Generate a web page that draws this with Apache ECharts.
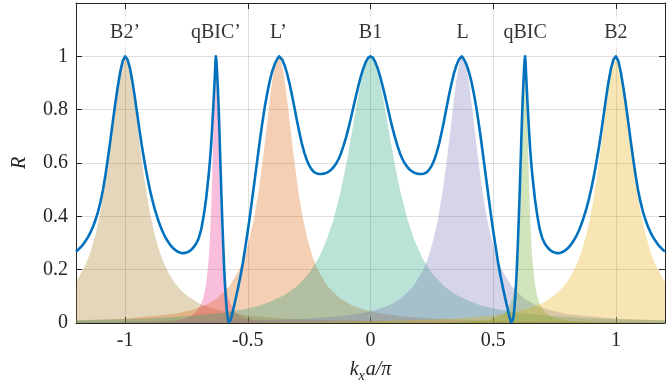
<!DOCTYPE html>
<html>
<head>
<meta charset="utf-8">
<script src="https://cdn.jsdelivr.net/npm/echarts@6/dist/echarts.min.js"></script>
<style>
  html, body { margin: 0; padding: 0; background: #fff; }
  #chart { width: 671px; height: 388px; }
</style>
</head>
<body>
<div id="chart"></div>
<script>
// reflectance R(kx a / pi)
const reflectance = [
  [-1.2,0.268],[-1.19,0.276],[-1.18,0.285],[-1.17,0.296],[-1.16,0.309],[-1.15,0.324],[-1.14,0.342],[-1.13,0.363],[-1.12,0.388],[-1.11,0.418],[-1.1,0.455],[-1.09,0.5],[-1.08,0.555],[-1.07,0.618],[-1.06,0.685],[-1.05,0.755],[-1.04,0.823],[-1.03,0.885],[-1.02,0.94],[-1.01,0.982],[-1,1],
  [-0.99,0.988],[-0.98,0.955],[-0.97,0.905],[-0.96,0.845],[-0.95,0.78],[-0.94,0.715],[-0.93,0.655],[-0.92,0.6],[-0.91,0.55],[-0.9,0.505],[-0.89,0.465],[-0.88,0.43],[-0.87,0.4],[-0.86,0.372],[-0.85,0.349],[-0.84,0.329],[-0.83,0.312],[-0.82,0.298],[-0.81,0.286],[-0.8,0.277],[-0.79,0.27],[-0.78,0.265],[-0.77,0.262],[-0.76,0.262],[-0.75,0.264],[-0.74,0.268],[-0.73,0.275],[-0.72,0.285],[-0.71,0.298],[-0.7,0.318],[-0.69,0.35],[-0.68,0.4],[-0.67,0.465],[-0.66,0.55],[-0.655,0.6],[-0.65,0.66],[-0.645,0.735],[-0.64,0.82],[-0.637,0.875],[-0.634,0.93],[-0.632,0.975],[-0.63,1],
  [-0.628,0.985],[-0.626,0.955],[-0.623,0.9],[-0.62,0.835],[-0.617,0.76],[-0.614,0.67],[-0.611,0.58],[-0.608,0.49],[-0.605,0.41],[-0.602,0.335],[-0.599,0.265],[-0.596,0.2],[-0.593,0.145],[-0.59,0.1],[-0.587,0.063],[-0.584,0.034],[-0.581,0.014],[-0.578,0.003],[-0.576,0],[-0.573,0.003],[-0.57,0.011],[-0.565,0.028],[-0.56,0.048],[-0.55,0.088],[-0.54,0.13],[-0.53,0.175],[-0.52,0.226],[-0.51,0.285],[-0.5,0.345],[-0.49,0.41],[-0.48,0.48],[-0.47,0.55],[-0.46,0.62],[-0.45,0.69],[-0.44,0.755],[-0.43,0.815],[-0.42,0.865],[-0.41,0.91],[-0.4,0.945],[-0.39,0.972],[-0.38,0.99],[-0.372,1],
  [-0.365,0.995],[-0.36,0.988],[-0.35,0.966],[-0.34,0.936],[-0.33,0.898],[-0.32,0.855],[-0.31,0.808],[-0.3,0.76],[-0.29,0.715],[-0.28,0.674],[-0.27,0.64],[-0.26,0.612],[-0.25,0.591],[-0.24,0.576],[-0.23,0.566],[-0.22,0.561],[-0.21,0.559],[-0.2,0.559],[-0.19,0.56],[-0.18,0.563],[-0.17,0.568],[-0.16,0.575],[-0.15,0.585],[-0.14,0.598],[-0.13,0.615],[-0.12,0.637],[-0.11,0.664],[-0.1,0.695],[-0.09,0.73],[-0.08,0.768],[-0.07,0.808],[-0.06,0.848],[-0.05,0.887],[-0.04,0.922],[-0.03,0.953],[-0.02,0.977],[-0.01,0.994],[0,1],
  [0.01,0.994],[0.02,0.977],[0.03,0.953],[0.04,0.922],[0.05,0.887],[0.06,0.848],[0.07,0.808],[0.08,0.768],[0.09,0.73],[0.1,0.695],[0.11,0.664],[0.12,0.637],[0.13,0.615],[0.14,0.598],[0.15,0.585],[0.16,0.575],[0.17,0.568],[0.18,0.563],[0.19,0.56],[0.2,0.559],[0.21,0.559],[0.22,0.561],[0.23,0.566],[0.24,0.576],[0.25,0.591],[0.26,0.612],[0.27,0.64],[0.28,0.674],[0.29,0.715],[0.3,0.76],[0.31,0.808],[0.32,0.855],[0.33,0.898],[0.34,0.936],[0.35,0.966],[0.36,0.988],[0.365,0.995],[0.372,1],
  [0.38,0.99],[0.39,0.972],[0.4,0.945],[0.41,0.91],[0.42,0.865],[0.43,0.815],[0.44,0.755],[0.45,0.69],[0.46,0.62],[0.47,0.55],[0.48,0.48],[0.49,0.41],[0.5,0.345],[0.51,0.285],[0.52,0.226],[0.53,0.175],[0.54,0.13],[0.55,0.088],[0.56,0.048],[0.565,0.028],[0.57,0.011],[0.573,0.003],[0.576,0],[0.578,0.003],[0.581,0.014],[0.584,0.034],[0.587,0.063],[0.59,0.1],[0.593,0.145],[0.596,0.2],[0.599,0.265],[0.602,0.335],[0.605,0.41],[0.608,0.49],[0.611,0.58],[0.614,0.67],[0.617,0.76],[0.62,0.835],[0.623,0.9],[0.626,0.955],[0.628,0.985],[0.63,1],
  [0.632,0.975],[0.634,0.93],[0.637,0.875],[0.64,0.82],[0.645,0.735],[0.65,0.66],[0.655,0.6],[0.66,0.55],[0.67,0.465],[0.68,0.4],[0.69,0.35],[0.7,0.318],[0.71,0.298],[0.72,0.285],[0.73,0.275],[0.74,0.268],[0.75,0.264],[0.76,0.262],[0.77,0.262],[0.78,0.265],[0.79,0.27],[0.8,0.277],[0.81,0.286],[0.82,0.298],[0.83,0.312],[0.84,0.329],[0.85,0.349],[0.86,0.372],[0.87,0.4],[0.88,0.43],[0.89,0.465],[0.9,0.505],[0.91,0.55],[0.92,0.6],[0.93,0.655],[0.94,0.715],[0.95,0.78],[0.96,0.845],[0.97,0.905],[0.98,0.955],[0.99,0.988],[1,1],
  [1.01,0.982],[1.02,0.94],[1.03,0.885],[1.04,0.823],[1.05,0.755],[1.06,0.685],[1.07,0.618],[1.08,0.555],[1.09,0.5],[1.1,0.455],[1.11,0.418],[1.12,0.388],[1.13,0.363],[1.14,0.342],[1.15,0.324],[1.16,0.309],[1.17,0.296],[1.18,0.285],[1.19,0.276],[1.2,0.268]
]

// shaded single-mode contributions
const fillB2p = [
  [-1.2,0.153],[-1.16,0.22],[-1.14,0.269],[-1.12,0.334],[-1.1,0.419],[-1.08,0.53],[-1.06,0.667],[-1.05,0.743],[-1.04,0.819],[-1.03,0.889],[-1.02,0.948],[-1.01,0.986],[-1,1],
  [-0.99,0.986],[-0.98,0.948],[-0.97,0.889],[-0.96,0.819],[-0.95,0.743],[-0.94,0.667],[-0.92,0.53],[-0.9,0.419],[-0.88,0.334],[-0.86,0.269],[-0.84,0.22],[-0.82,0.183],[-0.8,0.153],[-0.775,0.126],[-0.75,0.104],[-0.7,0.074],[-0.65,0.056],[-0.6,0.043],[-0.5,0.028],[-0.35,0.017],[-0.2,0.011],[0,0.0072],[0.2,0.005],[0.5,0.0032],[0.8,0.0022],[1.2,0.0015]
]
const fillB2 = [
  [-1.2,0.0015],[-0.8,0.0022],[-0.5,0.0032],[-0.2,0.005],[0,0.0072],[0.2,0.011],[0.35,0.017],[0.5,0.028],[0.6,0.043],[0.65,0.056],[0.7,0.074],[0.75,0.104],[0.775,0.126],[0.8,0.153],[0.82,0.183],[0.84,0.22],[0.86,0.269],[0.88,0.334],[0.9,0.419],[0.92,0.53],[0.94,0.667],[0.95,0.743],[0.96,0.819],[0.97,0.889],[0.98,0.948],[0.99,0.986],[1,1],
  [1.01,0.986],[1.02,0.948],[1.03,0.889],[1.04,0.819],[1.05,0.743],[1.06,0.667],[1.08,0.53],[1.1,0.419],[1.12,0.334],[1.14,0.269],[1.16,0.22],[1.2,0.153]
]
const fillLp = [
  [-1.2,0.0093],[-1,0.016],[-0.8,0.034],[-0.725,0.05],[-0.675,0.066],[-0.625,0.093],[-0.575,0.138],[-0.535,0.2],[-0.515,0.246],[-0.495,0.308],[-0.475,0.39],[-0.455,0.5],[-0.435,0.64],[-0.425,0.719],[-0.415,0.8],[-0.405,0.877],[-0.395,0.941],[-0.385,0.985],[-0.375,1],
  [-0.365,0.985],[-0.355,0.941],[-0.345,0.877],[-0.335,0.8],[-0.325,0.719],[-0.315,0.64],[-0.295,0.5],[-0.275,0.39],[-0.255,0.308],[-0.235,0.246],[-0.215,0.2],[-0.175,0.138],[-0.125,0.093],[-0.075,0.066],[-0.025,0.05],[0.025,0.038],[0.125,0.025],[0.275,0.015],[0.425,0.01],[0.625,0.0064],[0.825,0.0044],[1.025,0.0033],[1.2,0.0026]
]
const fillL = [
  [-1.2,0.0026],[-1.025,0.0033],[-0.825,0.0044],[-0.625,0.0064],[-0.425,0.01],[-0.275,0.015],[-0.125,0.025],[-0.025,0.038],[0.025,0.05],[0.075,0.066],[0.125,0.093],[0.175,0.138],[0.215,0.2],[0.235,0.246],[0.255,0.308],[0.275,0.39],[0.295,0.5],[0.315,0.64],[0.325,0.719],[0.335,0.8],[0.345,0.877],[0.355,0.941],[0.365,0.985],[0.375,1],
  [0.385,0.985],[0.395,0.941],[0.405,0.877],[0.415,0.8],[0.425,0.719],[0.435,0.64],[0.455,0.5],[0.475,0.39],[0.495,0.308],[0.515,0.246],[0.535,0.2],[0.575,0.138],[0.625,0.093],[0.675,0.066],[0.725,0.05],[0.8,0.034],[1,0.016],[1.2,0.0093]
]
const fillB1 = [
  [-1.2,0.01],[-1.05,0.013],[-0.9,0.017],[-0.75,0.025],[-0.6,0.038],[-0.5,0.054],[-0.45,0.066],[-0.4,0.083],[-0.35,0.105],[-0.3,0.138],[-0.25,0.187],[-0.21,0.246],[-0.18,0.308],[-0.15,0.39],[-0.12,0.5],[-0.1,0.59],[-0.08,0.692],[-0.06,0.8],[-0.04,0.9],[-0.02,0.973],[0,1],
  [0.02,0.973],[0.04,0.9],[0.06,0.8],[0.08,0.692],[0.1,0.59],[0.12,0.5],[0.15,0.39],[0.18,0.308],[0.21,0.246],[0.25,0.187],[0.3,0.138],[0.35,0.105],[0.4,0.083],[0.45,0.066],[0.5,0.054],[0.6,0.038],[0.75,0.025],[0.9,0.017],[1.05,0.013],[1.2,0.01]
]
const fillQbicP = [
  [-1.2,0.0008],[-0.93,0.003],[-0.85,0.0056],[-0.8,0.0093],[-0.76,0.016],[-0.73,0.027],[-0.71,0.041],[-0.69,0.07],[-0.68,0.098],[-0.67,0.145],[-0.66,0.232],[-0.655,0.303],[-0.65,0.405],[-0.646,0.515],[-0.642,0.654],[-0.638,0.81],[-0.634,0.944],[-0.63,1],
  [-0.626,0.944],[-0.622,0.81],[-0.618,0.654],[-0.614,0.515],[-0.61,0.405],[-0.605,0.303],[-0.6,0.232],[-0.59,0.145],[-0.58,0.098],[-0.57,0.07],[-0.55,0.041],[-0.53,0.027],[-0.5,0.016],[-0.46,0.0093],[-0.41,0.0056],[-0.33,0.003],[-0.18,0.0013],[0.17,0.0004],[1.2,0.0001]
]
const fillQbic = [
  [-1.2,0.0001],[-0.17,0.0004],[0.18,0.0013],[0.33,0.003],[0.41,0.0056],[0.46,0.0093],[0.5,0.016],[0.53,0.027],[0.55,0.041],[0.57,0.07],[0.58,0.098],[0.59,0.145],[0.6,0.232],[0.605,0.303],[0.61,0.405],[0.614,0.515],[0.618,0.654],[0.622,0.81],[0.626,0.944],[0.63,1],
  [0.634,0.944],[0.638,0.81],[0.642,0.654],[0.646,0.515],[0.65,0.405],[0.655,0.303],[0.66,0.232],[0.67,0.145],[0.68,0.098],[0.69,0.07],[0.71,0.041],[0.73,0.027],[0.76,0.016],[0.8,0.0093],[0.85,0.0056],[0.93,0.003],[1.2,0.0008]
]

const peakNames = ['B2’', 'qBIC’', 'L’', 'B1', 'L', 'qBIC', 'B2']
const peakX     = [-1, -0.63, -0.375, 0, 0.375, 0.63, 1]
const peakLabelY = 1.09

const xTicks = [-1, -0.5, 0, 0.5, 1]
const yTicks = [0, 0.2, 0.4, 0.6, 0.8, 1]

const COLORS = {
  line: '#0072BD',
  axis: '#262626',
  grid: 'rgba(38,38,38,0.15)',
}
const FONT = '"Liberation Serif", "Times New Roman", serif'

const fills = [
  { name: 'B2’',   data: fillB2p,   color: '#a6761d' },
  { name: 'qBIC’', data: fillQbicP, color: '#e7298a' },
  { name: 'L’',    data: fillLp,    color: '#d95f02' },
  { name: 'B1',    data: fillB1,    color: '#1b9e77' },
  { name: 'L',     data: fillL,     color: '#7570b3' },
  { name: 'qBIC',  data: fillQbic,  color: '#66a61e' },
  { name: 'B2',    data: fillB2,    color: '#e6ab02' },
]

const chart = echarts.init(document.getElementById('chart'), null, { renderer: 'canvas' })

const tickStyle = { show: true, inside: true, length: 6, lineStyle: { color: COLORS.axis, width: 1 } }
const axLine = { show: true, onZero: false, lineStyle: { color: COLORS.axis, width: 1 } }

chart.setOption({
  animation: false,
  backgroundColor: '#fff',
  grid: { left: 76, right: 6, top: 3, bottom: 64 },
  xAxis: [
    {
      type: 'value', min: -1.2, max: 1.2, position: 'bottom',
      name: '{i|k}{s|x}{i|a/π}', nameLocation: 'middle', nameGap: 34,
      nameTextStyle: {
        rich: {
          i: { fontFamily: FONT, fontStyle: 'italic', fontSize: 20, color: COLORS.axis },
          s: { fontFamily: FONT, fontStyle: 'italic', fontSize: 14, color: COLORS.axis, verticalAlign: 'bottom', padding: [12, 1, 0, 0] },
        },
      },
      axisLine: axLine,
      axisTick: tickStyle,
      axisLabel: {
        color: COLORS.axis, fontFamily: FONT, fontSize: 20, margin: 8,
        formatter: v => (xTicks.some(t => Math.abs(t - v) < 1e-9) ? String(v) : ''),
      },
      splitLine: { show: true, lineStyle: { color: COLORS.grid, width: 1 } },
    },
    {
      type: 'value', min: -1.2, max: 1.2, position: 'top',
      axisLine: axLine, axisTick: tickStyle,
      axisLabel: { show: false }, splitLine: { show: false },
    },
  ],
  yAxis: [
    {
      type: 'value', min: 0, max: 1.2, interval: 0.2, position: 'left',
      name: 'R', nameLocation: 'middle', nameGap: 46, nameRotate: 90,
      nameTextStyle: { fontFamily: FONT, fontStyle: 'italic', fontSize: 20, color: COLORS.axis },
      axisLine: axLine,
      axisTick: tickStyle,
      axisLabel: {
        color: COLORS.axis, fontFamily: FONT, fontSize: 20, margin: 8,
        formatter: v => (yTicks.some(t => Math.abs(t - v) < 1e-9) ? String(+v.toFixed(1)) : ''),
      },
      splitLine: { show: true, lineStyle: { color: COLORS.grid, width: 1 } },
    },
    {
      type: 'value', min: 0, max: 1.2, interval: 0.2, position: 'right',
      axisLine: axLine, axisTick: tickStyle,
      axisLabel: { show: false }, splitLine: { show: false },
    },
  ],
  series: [
    ...fills.map(f => ({
      name: f.name,
      type: 'line',
      data: f.data,
      showSymbol: false,
      smooth: false,
      lineStyle: { width: 0 },
      areaStyle: { color: f.color, opacity: 0.3 },
      silent: true,
    })),
    {
      name: 'R',
      type: 'line',
      data: reflectance,
      showSymbol: false,
      smooth: false,
      lineStyle: { color: COLORS.line, width: 2.6, join: 'round' },
      z: 5,
    },
    {
      name: 'labels',
      type: 'scatter',
      data: peakX.map(x => [x, peakLabelY]),
      symbolSize: 0,
      z: 6,
      label: {
        show: true,
        position: 'inside',
        formatter: p => peakNames[p.dataIndex],
        fontFamily: FONT,
        fontSize: 20,
        color: '#000',
        backgroundColor: '#fff',
        padding: [5, 2],
      },
    },
  ],
})
</script>
</body>
</html>
